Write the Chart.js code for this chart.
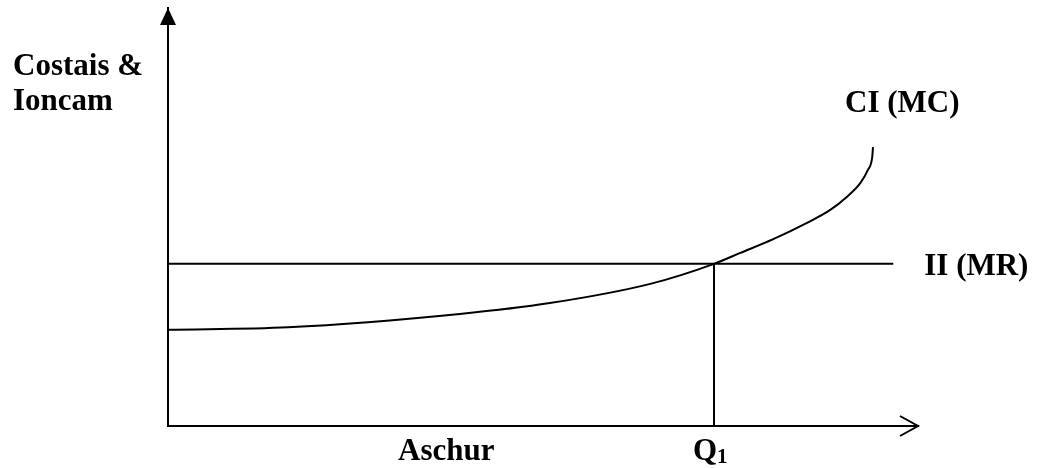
<!DOCTYPE html>
<html>
<head>
<meta charset="utf-8">
<script src="https://cdn.jsdelivr.net/npm/chart.js@4/dist/chart.umd.min.js"></script>
<style>
  html, body { margin: 0; padding: 0; background: #fff; }
  #wrap { width: 1037px; height: 468px; }
</style>
</head>
<body>
<div id="wrap"><canvas id="chart" width="1037" height="468"></canvas></div>
<script>
// =========================
// DATA
// =========================

// marginal cost curve (axis units 0..100)
const MC_X = [0, 16.0, 38.9, 50.9, 64.3, 72.8, 76.3, 80.7, 85.2, 88.3, 90.5, 92.3, 93.3, 93.9, 94.0];
const MC_Y = [23.0, 23.6, 26.8, 29.4, 34.0, 38.8, 41.4, 44.7, 48.6, 51.7, 54.8, 58.1, 61.2, 64.4, 66.7];

// marginal revenue is flat
const MR_LEVEL = 38.8;
const MR_END = 96.7;

// output where MC = MR
const Q1 = 72.8;

const AXIS_MAX = 100;

const FONT = "bold 31px 'Liberation Serif', 'Times New Roman', serif";
const SUB_FONT = "bold 21px 'Liberation Serif', 'Times New Roman', serif";


// =========================
// HELPERS
// =========================

function toPoints(xs, ys) {
  return xs.map((x, i) => ({ x: x, y: ys[i] }));
}

function line(color) {
  return {
    borderColor: color,
    borderWidth: 2,
    pointRadius: 0,
    showLine: true,
    fill: false
  };
}


// =========================
// PLUGIN: arrows + labels
// =========================

const decorations = {
  id: "decorations",
  afterDraw(chart) {
    const ctx = chart.ctx;
    const xs = chart.scales.x;
    const ys = chart.scales.y;
    const left = xs.getPixelForValue(0);
    const right = xs.getPixelForValue(AXIS_MAX);
    const top = ys.getPixelForValue(AXIS_MAX);
    const bottom = ys.getPixelForValue(0);

    ctx.save();
    ctx.strokeStyle = "#000";
    ctx.fillStyle = "#000";
    ctx.lineWidth = 2;

    // y axis: filled arrowhead
    ctx.beginPath();
    ctx.moveTo(left, top);
    ctx.lineTo(left - 8, top + 17);
    ctx.lineTo(left + 8, top + 17);
    ctx.closePath();
    ctx.fill();

    // x axis: open chevron
    ctx.beginPath();
    ctx.moveTo(right - 18, bottom - 10);
    ctx.lineTo(right, bottom);
    ctx.lineTo(right - 18, bottom + 10);
    ctx.stroke();

    // labels
    ctx.font = FONT;
    ctx.textBaseline = "alphabetic";
    ctx.textAlign = "left";
    ctx.fillText("Costais &", 13, 75);
    ctx.fillText("Ioncam", 13, 110);

    const mcEndX = xs.getPixelForValue(MC_X[MC_X.length - 1]);
    ctx.fillText("CI (MC)", mcEndX - 28, 112);

    const mrY = ys.getPixelForValue(MR_LEVEL);
    ctx.fillText("II (MR)", xs.getPixelForValue(MR_END) + 31, mrY + 11);

    ctx.fillText("Aschur", 398, bottom + 34);

    const qx = xs.getPixelForValue(Q1);
    ctx.fillText("Q", qx - 21, bottom + 34);
    const qw = ctx.measureText("Q").width;
    ctx.font = SUB_FONT;
    ctx.fillText("1", qx - 21 + qw, bottom + 37);

    ctx.restore();
  }
};


// =========================
// RENDER
// =========================

function render() {
  const ctx = document.getElementById("chart").getContext("2d");

  new Chart(ctx, {
    type: "scatter",
    data: {
      datasets: [
        Object.assign({ label: "CI (MC)", data: toPoints(MC_X, MC_Y), cubicInterpolationMode: "monotone" }, line("#000")),
        Object.assign({ label: "II (MR)", data: [{ x: 0, y: MR_LEVEL }, { x: MR_END, y: MR_LEVEL }] }, line("#000")),
        Object.assign({ label: "Q1", data: [{ x: Q1, y: 0 }, { x: Q1, y: MR_LEVEL }] }, line("#000"))
      ]
    },
    options: {
      responsive: false,
      animation: false,
      events: [],
      layout: { padding: { left: 168, top: 8, right: 119, bottom: 42 } },
      plugins: {
        legend: { display: false },
        tooltip: { enabled: false }
      },
      scales: {
        x: {
          type: "linear",
          min: 0,
          max: AXIS_MAX,
          ticks: { display: false },
          grid: { display: false, drawTicks: false },
          border: { display: true, color: "#000", width: 2 }
        },
        y: {
          type: "linear",
          min: 0,
          max: AXIS_MAX,
          ticks: { display: false },
          grid: { display: false, drawTicks: false },
          border: { display: true, color: "#000", width: 2 }
        }
      }
    },
    plugins: [decorations]
  });
}

document.addEventListener("DOMContentLoaded", render);
</script>
</body>
</html>
